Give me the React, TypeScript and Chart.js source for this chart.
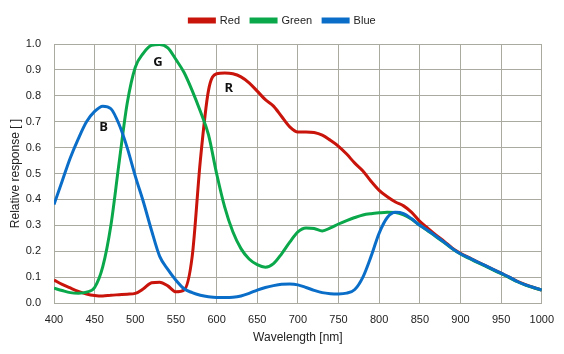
import React, { useEffect, useRef } from "react";
import { Chart, registerables } from "chart.js";

Chart.register(...registerables);

const wavelengths = [
  400, 410, 420, 430, 440, 450, 460, 470, 480, 490,
  500, 510, 520, 530, 540, 550, 560, 570, 580, 590,
  600, 610, 620, 630, 640, 650, 660, 670, 680, 690,
  700, 710, 720, 730, 740, 750, 760, 770, 780, 790,
  800, 810, 820, 830, 840, 850, 860, 870, 880, 890,
  900, 910, 920, 930, 940, 950, 960, 970, 980, 990, 1000,
];

const redValues = [
  0.089, 0.072, 0.058, 0.045, 0.035, 0.029, 0.027, 0.03, 0.032, 0.034,
  0.037, 0.055, 0.078, 0.08, 0.066, 0.043, 0.05, 0.18, 0.55, 0.82,
  0.885, 0.888, 0.885, 0.873, 0.85, 0.818, 0.785, 0.76, 0.72, 0.68,
  0.66, 0.66, 0.658, 0.648, 0.628, 0.605, 0.575, 0.54, 0.51, 0.47,
  0.435, 0.41, 0.39, 0.375, 0.35, 0.315, 0.288, 0.262, 0.238, 0.212,
  0.192, 0.176, 0.16, 0.145, 0.13, 0.115, 0.1, 0.084, 0.071, 0.06, 0.05,
];

const greenValues = [
  0.057, 0.048, 0.04, 0.038, 0.042, 0.06, 0.14, 0.3, 0.54, 0.77,
  0.91, 0.965, 0.995, 0.998, 0.985, 0.94, 0.89, 0.82, 0.74, 0.65,
  0.5, 0.37, 0.275, 0.21, 0.17, 0.148, 0.138, 0.152, 0.19, 0.235,
  0.275, 0.29, 0.288, 0.278, 0.29, 0.305, 0.318, 0.33, 0.34, 0.345,
  0.348, 0.35, 0.349, 0.34, 0.323, 0.3, 0.278, 0.256, 0.233, 0.209,
  0.189, 0.173, 0.158, 0.143, 0.128, 0.113, 0.098, 0.082, 0.069, 0.059, 0.05,
];

const blueValues = [
  0.38, 0.47, 0.56, 0.635, 0.7, 0.74, 0.76, 0.75, 0.69, 0.6,
  0.49, 0.39, 0.28, 0.18, 0.13, 0.088, 0.055, 0.04, 0.03, 0.024,
  0.021, 0.021, 0.022, 0.027, 0.037, 0.05, 0.06, 0.067, 0.072, 0.073,
  0.07, 0.06, 0.049, 0.04, 0.036, 0.035, 0.038, 0.052, 0.1, 0.18,
  0.27, 0.33, 0.35, 0.345, 0.325, 0.3, 0.28, 0.258, 0.235, 0.21,
  0.19, 0.175, 0.16, 0.145, 0.13, 0.115, 0.1, 0.083, 0.07, 0.06, 0.05,
];

const seriesNames = ["Red", "Green", "Blue"];
const seriesColors = ["#c8140a", "#0aa84a", "#0a6ec8"];

const curveLabels = ["B", "G", "R"];
const curveLabelX = [461, 528, 615];
const curveLabelY = [0.68, 0.93, 0.83];

const xTickLabels = [400, 450, 500, 550, 600, 650, 700, 750, 800, 850, 900, 950, 1000];

const FONT = "'Liberation Sans', Arial, sans-serif";

const curveLabelPlugin = {
  id: "curveLabels",
  afterDatasetsDraw(chart: any) {
    const { ctx, scales } = chart;
    ctx.save();
    ctx.font = "bold 13px 'Open Sans', 'Liberation Sans', sans-serif";
    ctx.fillStyle = "#111";
    ctx.textAlign = "center";
    ctx.textBaseline = "middle";
    curveLabels.forEach((t, i) => {
      ctx.fillText(t, scales.x.getPixelForValue(curveLabelX[i]), scales.y.getPixelForValue(curveLabelY[i]));
    });
    ctx.restore();
  },
};

const legendSpacePlugin = {
  id: "legendSpace",
  beforeLayout(chart: any) {
    const lg = chart.legend;
    if (lg && !lg.__patched) {
      const origFit = lg.fit;
      lg.fit = function () {
        origFit.call(this);
        this.height += 8;
      };
      const origDraw = lg.draw;
      lg.draw = function () {
        const c = this.ctx;
        c.save();
        c.translate(8, 0);
        origDraw.call(this);
        c.restore();
      };
      lg.__patched = true;
    }
  },
};

export default function App() {
  const canvasRef = useRef<HTMLCanvasElement | null>(null);

  useEffect(() => {
    if (!canvasRef.current) return;
    const all = [redValues, greenValues, blueValues];
    const chart = new Chart(canvasRef.current, {
      type: "line",
      data: {
        datasets: seriesNames.map((name, i) => ({
          label: name,
          data: wavelengths.map((w, j) => ({ x: w, y: all[i][j] })),
          borderColor: seriesColors[i],
          backgroundColor: seriesColors[i],
          borderWidth: 3,
          pointRadius: 0,
          cubicInterpolationMode: "monotone" as const,
          fill: false,
          order: 2 - i,
        })),
      },
      options: {
        animation: false,
        responsive: true,
        maintainAspectRatio: false,
        layout: { padding: { left: 0, right: 15, top: 4, bottom: 9 } },
        plugins: {
          tooltip: { enabled: false },
          legend: {
            position: "top",
            labels: {
              boxWidth: 25,
              boxHeight: 3,
              padding: 11,
              color: "#222",
              font: { family: FONT, size: 11 },
              sort: (a: any, b: any) => a.datasetIndex - b.datasetIndex,
            },
          },
        },
        scales: {
          x: {
            type: "linear",
            min: 400,
            max: 1000,
            afterBuildTicks: (scale: any) => {
              scale.ticks = xTickLabels.map((v) => ({ value: v }));
            },
            afterFit: (scale: any) => {
              scale.height = 42;
            },
            grid: { color: "#aaaaa0", drawTicks: false, lineWidth: 1 },
            border: { color: "#aaaaa0" },
            ticks: {
              color: "#222",
              font: { family: FONT, size: 11 },
              padding: 10,
              maxRotation: 0,
              callback: (v: any) => String(v),
            },
            title: {
              display: true,
              text: "Wavelength [nm]",
              color: "#222",
              font: { family: FONT, size: 12 },
              padding: { top: 2, bottom: 0 },
            },
          },
          y: {
            min: 0,
            max: 1,
            afterFit: (scale: any) => {
              scale.width = 54;
            },
            grid: { color: "#aaaaa0", drawTicks: false, lineWidth: 1 },
            border: { color: "#aaaaa0" },
            ticks: {
              stepSize: 0.1,
              color: "#222",
              font: { family: FONT, size: 11 },
              padding: 13,
              callback: (v: any) => Number(v).toFixed(1),
            },
            title: {
              display: true,
              text: "Relative response [ ]",
              color: "#222",
              font: { family: FONT, size: 12 },
              padding: { top: 8, bottom: 2 },
            },
          },
        },
      },
      plugins: [curveLabelPlugin, legendSpacePlugin],
    });
    return () => chart.destroy();
  }, []);

  return (
    <div style={{ position: "absolute", left: 0, top: 0, width: 564, height: 354, background: "#fff" }}>
      <canvas ref={canvasRef} />
    </div>
  );
}
